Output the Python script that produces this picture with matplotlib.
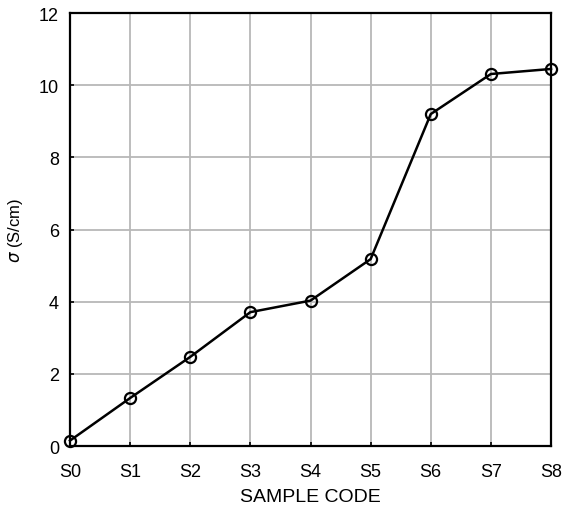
import matplotlib
matplotlib.use("Agg")
import matplotlib.pyplot as plt

samples = ["S0", "S1", "S2", "S3", "S4", "S5", "S6", "S7", "S8"]
conductivity = [0.15, 1.33, 2.47, 3.71, 4.03, 5.18, 9.2, 10.31, 10.45]
y_ticks = [0, 2, 4, 6, 8, 10, 12]

plt.rcParams['font.family'] = ['Liberation Sans', 'DejaVu Sans']

fig = plt.figure(figsize=(5.7, 5.1), dpi=100)
ax = fig.add_axes([0.1228, 0.1235, 0.8439, 0.849])

x = list(range(len(samples)))
ax.plot(x, conductivity, color='black', linewidth=1.8, marker='o',
        markersize=8, markerfacecolor='none', markeredgecolor='black',
        markeredgewidth=1.6, zorder=3, clip_on=False)

ax.set_xlim(0, len(samples) - 1)
ax.set_ylim(0, 12)
ax.set_xticks(x)
ax.set_xticklabels(samples)
ax.set_yticks(y_ticks)
ax.grid(True, color='#b8b8b8', linewidth=1.3)
ax.set_axisbelow(True)
for s in ax.spines.values():
    s.set_linewidth(1.6)
    s.set_color('black')
ax.tick_params(direction='in', length=3, width=1.2, labelsize=13)
ax.tick_params(axis='x', pad=12)
ax.tick_params(axis='y', pad=8)
ax.set_xlabel("SAMPLE CODE", fontsize=14, labelpad=6)
ax.set_ylabel(r"$\sigma$ (S/cm)", fontsize=12, labelpad=10)

fig.savefig("out.png", dpi=100)
